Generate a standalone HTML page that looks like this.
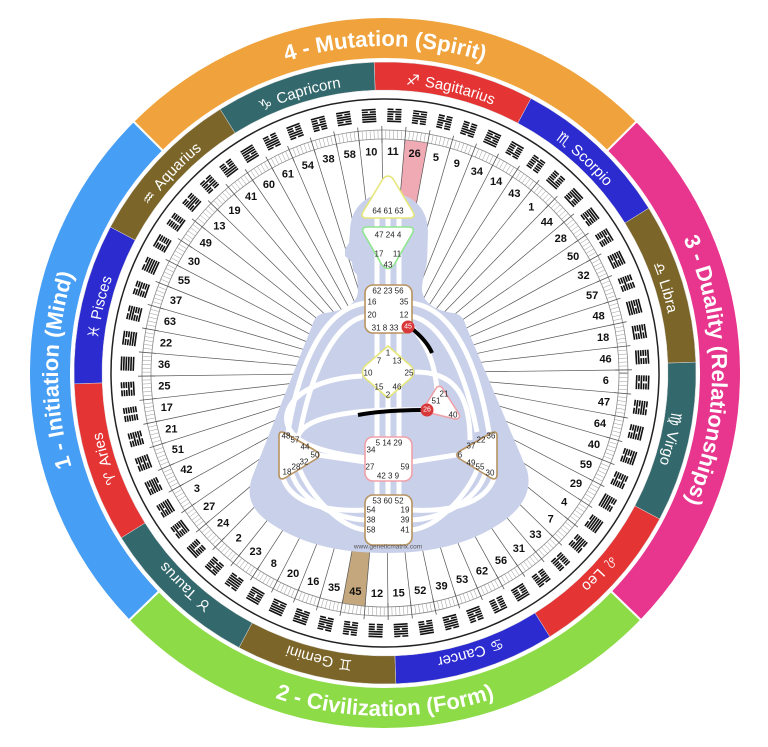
<!DOCTYPE html>
<html><head><meta charset="utf-8"><style>
html,body{margin:0;padding:0;background:#fff;}
svg{display:block;font-family:"Liberation Sans",sans-serif;}
</style></head><body>
<svg id="s" width="768" height="747" viewBox="0 0 768 747" xmlns="http://www.w3.org/2000/svg">
<defs id="d"></defs>
<g id="ring"></g>
<g id="body">
<path d="M389,193 C412,193 428,208 428,232 L427,262 C425,272 422,280 422,290 C424,306 440,311 453,313 C460,314 464,318 466,326 L527,470 C532,488 525,505 505,520 C470,545 430,553 386,553 C342,553 300,545 266,520 C246,505 248,488 253,475 L312,326 C314,318 318,314 325,313 C340,311 358,306 358,290 L357,275 L353,270 L352,262 L345,256 L345,249 L349,243 L350,232 C350,208 366,193 389,193 Z" fill="#c9d0ea"/>
<g fill="none" stroke="#fff" stroke-width="5">
<path d="M377,212 L377,500 M388,212 L388,500 M399,212 L399,500"/>
<path d="M366,303 C325,308 300,360 288,432"/>
<path d="M366,316 C335,322 312,370 300,432"/>
<path d="M411,303 C452,308 477,360 489,432"/>
<path d="M411,316 C442,322 465,370 477,432"/>
<path d="M283,478 C292,505 330,512 366,510"/>
<path d="M292,474 C300,500 335,519 366,520"/>
<path d="M300,470 C310,495 340,528 366,530"/>
<path d="M494,478 C485,505 447,512 411,510"/>
<path d="M485,474 C477,500 442,519 411,520"/>
<path d="M477,470 C467,495 437,528 411,530"/>
<path d="M362,376 C290,380 270,420 300,440 C315,450 340,455 366,458"/>
<path d="M424,410 C340,408 285,420 300,450"/>
<path d="M318,455 L366,462 M411,462 L456,455"/>
<path d="M411,326 C428,345 435,365 437,390"/>
<path d="M415,372 C440,372 470,380 470,440"/>
</g>
<path d="M410,327 C420,335 428,343 432,353" fill="none" stroke="#000" stroke-width="4"/>
<path d="M358,415 C380,411 405,410 424,410" fill="none" stroke="#000" stroke-width="4"/>
<g fill="#fff" stroke-width="1.6" stroke-linejoin="round">
<path d="M388,176 Q392,176 395,182 L413,212 Q416,218 409,218 L367,218 Q360,218 363,212 L381,182 Q384,176 388,176 Z" stroke="#e6e67a"/>
<path d="M368,227 L408,227 Q416,227 412,234 L394,265 Q388,272 382,265 L364,234 Q360,227 368,227 Z" stroke="#8fe68f"/>
<rect x="365" y="285" width="47" height="48" rx="8" stroke="#b8925f"/>
<path d="M388,346 L411,366 Q416,372 411,378 L388,398 L365,378 Q360,372 365,366 Z" stroke="#e6e67a"/>
<path d="M437,387 Q441,385 443,389 L459,414 Q461,419 455,419 L426,412 Q421,410 425,406 Z" stroke="#f0a0a8"/>
<rect x="365" y="437" width="47" height="44" rx="8" stroke="#f0a0a8"/>
<rect x="365" y="495" width="47" height="50" rx="8" stroke="#b8925f"/>
<path d="M279,436 Q279,430 285,433 L316,451 Q322,455 316,459 L285,478 Q279,481 279,474 Z" stroke="#b8925f"/>
<path d="M497,436 Q497,430 491,433 L460,451 Q454,455 460,459 L491,478 Q497,481 497,474 Z" stroke="#b8925f"/>
</g>
<circle cx="408" cy="327" r="6.5" fill="#d9383a"/>
<circle cx="427" cy="410" r="6.5" fill="#d9383a"/>
<g font-size="8" fill="#222" text-anchor="middle" dominant-baseline="central">
<text x="388" y="211">64 61 63</text>
<text x="388" y="235">47 24 4</text><text x="379" y="254">17</text><text x="397" y="254">11</text><text x="388" y="265">43</text>
<text x="388" y="291">62 23 56</text><text x="372" y="302">16</text><text x="404" y="302">35</text><text x="372" y="315">20</text><text x="404" y="315">12</text><text x="385" y="328">31 8 33</text>
<text x="388" y="353">1</text><text x="379" y="361">7</text><text x="397" y="361">13</text><text x="368" y="373">10</text><text x="409" y="373">25</text><text x="379" y="387">15</text><text x="397" y="387">46</text><text x="388" y="395">2</text>
<text x="444" y="394">21</text><text x="436" y="401">51</text><text x="453" y="415">40</text>
<text x="389" y="443">5 14 29</text><text x="371" y="450">34</text><text x="370" y="467">27</text><text x="405" y="467">59</text><text x="388" y="476">42 3 9</text>
<text x="388" y="501">53 60 52</text><text x="371" y="510">54</text><text x="405" y="510">19</text><text x="371" y="520">38</text><text x="405" y="520">39</text><text x="371" y="530">58</text><text x="405" y="530">41</text>
<text x="286" y="436">48</text><text x="295" y="440">57</text><text x="305" y="447">44</text><text x="315" y="455">50</text><text x="304" y="462">32</text><text x="296" y="467">28</text><text x="287" y="472">18</text>
<text x="491" y="436">36</text><text x="481" y="440">22</text><text x="471" y="446">37</text><text x="460" y="455">6</text><text x="471" y="463">49</text><text x="480" y="467">55</text><text x="490" y="473">30</text>
<text x="408" y="327" fill="#fff" font-size="7">45</text><text x="427" y="410" fill="#fff" font-size="7">26</text>
<text x="388" y="547" font-size="6.5" fill="#555">www.geneticmatrix.com</text>
</g>
</g>
</svg>
<script>
var NS="http://www.w3.org/2000/svg",cx=385,cy=373;
function P(r,a){a=a*Math.PI/180;return [cx+r*Math.cos(a),cy+r*Math.sin(a)];}
function el(t,at,par,txt){var e=document.createElementNS(NS,t);for(var k in at)e.setAttribute(k,at[k]);if(txt!==undefined)e.textContent=txt;(par||ring).appendChild(e);return e;}
var ring=document.getElementById("ring"),defs=document.getElementById("d");
function sector(r1,r2,a1,a2){var p1=P(r2,a1),p2=P(r2,a2),p3=P(r1,a2),p4=P(r1,a1),l=(a2-a1)>180?1:0;
return "M"+p1+" A"+r2+" "+r2+" 0 "+l+" 1 "+p2+" L"+p3+" A"+r1+" "+r1+" 0 "+l+" 0 "+p4+"Z";}
function arc(r,a1,a2,cw){var p1=P(r,a1),p2=P(r,a2);return "M"+p1+" A"+r+" "+r+" 0 0 "+(cw?1:0)+" "+p2;}
var pid=0;
function ptext(r,a1,a2,cw,txt,size,weight){var id="p"+(pid++);el("path",{id:id,d:arc(r,a1,a2,cw),fill:"none"},defs);
var t=el("text",{"font-size":size,"font-weight":weight,fill:"#fff","text-anchor":"middle"});
var tp=el("textPath",{href:"#"+id,startOffset:"50%"},t,txt);}
// quadrants
var Q=[[-135,-45,"#f0a33c","4 - Mutation (Spirit)",1],[-45,44,"#e8368f","3 - Duality (Relationships)",1],[44,136,"#8ddc47","2 - Civilization (Form)",0],[136,225,"#469ef5","1 - Initiation (Mind)",1]];
Q.forEach(function(q){el("path",{d:sector(314,356,q[0],q[1]),fill:q[2],stroke:"#fff","stroke-width":2});});
Q.forEach(function(q){if(q[4])ptext(327,q[0],q[1],1,q[3],22,"bold");else ptext(343,q[1],q[0],0,q[3],22,"bold");});
// zodiac
var Z=[["♐","Sagittarius","#e53434"],["♏","Scorpio","#2b2bd0"],["♎","Libra","#7b6528"],["♍","Virgo","#33696d"],["♌","Leo","#e53434"],["♋","Cancer","#2b2bd0"],["♊","Gemini","#7b6528"],["♉","Taurus","#33696d"],["♈","Aries","#e53434"],["♓","Pisces","#2b2bd0"],["♒","Aquarius","#7b6528"],["♑","Capricorn","#33696d"]];
Z.forEach(function(z,i){var a1=-92+30*i,a2=a1+30;el("path",{d:sector(283,311,a1,a2),fill:z[2],stroke:"#ddd","stroke-width":0.5});
var id="p"+(pid++);el("path",{id:id,d:arc(289,a1,a2,1),fill:"none"},defs);
var t=el("text",{"font-size":15,fill:"#fff","text-anchor":"middle"});
var tp=el("textPath",{href:"#"+id,startOffset:"50%"},t);
el("tspan",{"font-family":"DejaVu Sans","font-weight":"bold"},tp,z[0]+"\uFE0E  ");el("tspan",{},tp,z[1]);});
el("circle",{cx:cx,cy:cy,r:282,fill:"#fff"});
el("circle",{cx:cx,cy:cy,r:274,fill:"none",stroke:"#222","stroke-width":1.5});
var G=[41,19,13,49,30,55,37,63,22,36,25,17,21,51,42,3,27,24,2,23,8,20,16,35,45,12,15,52,39,53,62,56,31,33,7,4,29,59,40,64,47,6,46,18,48,57,32,50,28,44,1,43,14,34,9,5,26,11,10,58,38,54,61,60];
function ang(i){return 97.7-(i-24)*5.625;}
// highlights
G.forEach(function(g,i){var a=ang(i);if(g==26)el("path",{d:sector(171,234,a-2.8125,a+2.8125),fill:"#f0aab4"});
if(g==45)el("path",{d:sector(178,234,a-2.8125,a+2.8125),fill:"#c4a77c"});});
// boundary lines
for(var i=0;i<64;i++){var a=ang(i)+2.8125,p1=P(234,a),p2=P(60,a);el("line",{x1:p1[0],y1:p1[1],x2:p2[0],y2:p2[1],stroke:"#555","stroke-width":0.7});}
// tick ring
el("path",{d:sector(234,243,0,359.99),fill:"#fff",stroke:"#888","stroke-width":0.8});
for(var k=0;k<384;k++){var a=ang(0)+2.8125-k*0.9375,long=(k%6==0),p1=P(long?230:234,a),p2=P(long?247:243,a);
el("line",{x1:p1[0],y1:p1[1],x2:p2[0],y2:p2[1],stroke:long?"#555":"#999","stroke-width":long?0.8:0.5});}
// numbers & hexagrams
G.forEach(function(g,i){var a=ang(i),p=P(221,a);
el("text",{x:p[0],y:p[1],"font-size":11,"font-weight":"bold",fill:"#111","text-anchor":"middle","dominant-baseline":"central"},ring,String(g));
var h=P(258,a),grp=el("g",{transform:"translate("+h[0]+","+h[1]+") rotate("+(a+90)+")",fill:"#111"});
var bits=(g*37+11)%64;
for(var j=0;j<6;j++){var y=-6.5+j*2.4;if((bits>>j)&1)el("rect",{x:-7,y:y,width:14,height:1.6},grp);
else{el("rect",{x:-7,y:y,width:6,height:1.6},grp);el("rect",{x:1,y:y,width:6,height:1.6},grp);}}});
</script>
</body></html>
